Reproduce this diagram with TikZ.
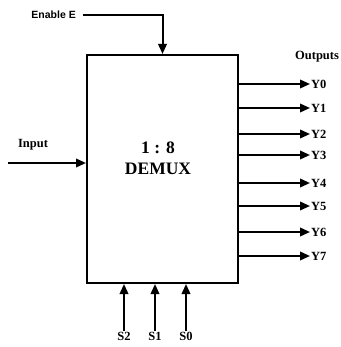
\documentclass[tikz,border=0pt]{standalone}
\usepackage{fontspec}
\setmainfont{Liberation Serif}
\setsansfont{Liberation Sans}
\usetikzlibrary{arrows.meta}
\begin{document}
\begin{tikzpicture}[x=1pt,y=-1pt,
  wire/.style={line width=2pt,-{Triangle[length=10pt,width=8.5pt]}},
  lbl/.style={font=\fontsize{12.5}{14}\selectfont\bfseries,inner sep=1pt},
  yl/.style={lbl,anchor=west}]
\useasboundingbox (0,0) rectangle (340,347);
\node[draw,line width=2pt,minimum width=151pt,minimum height=228pt,inner sep=0pt] (box) at (162.5,169) {};
\node[font=\fontsize{17.5}{21}\selectfont\bfseries,align=center] (title) at (158,158) {1 : 8\\DEMUX};
% enable
\node[font=\sffamily\fontsize{10.5}{12}\selectfont\bfseries,anchor=east,inner sep=1pt] (en) at (77,15) {Enable E};
\coordinate (enS) at (83,15);
\draw[wire] (enS) -| (box.north);
% input
\node[lbl] (inp) at (33,145) {Input};
\coordinate (inS) at (8,163);
\draw[wire] (inS) -- (box.west |- inS);
% outputs
\node[lbl,anchor=west] (outs) at (294,57) {Outputs};
\foreach \i/\y in {0/84,1/108,2/134,3/155,4/183,5/206,6/232,7/256}{
  \node[yl] (Y\i) at (310,\y) {Y\i};
  \draw[wire] (box.east |- Y\i) -- (Y\i.west);
}
% selects
\foreach \n/\x in {S2/124,S1/155,S0/186}{
  \node[lbl,anchor=north] (\n) at (\x,331) {\n};
  \draw[wire] (\n.north) -- (\n.north |- box.south);
}
\end{tikzpicture}
\end{document}
